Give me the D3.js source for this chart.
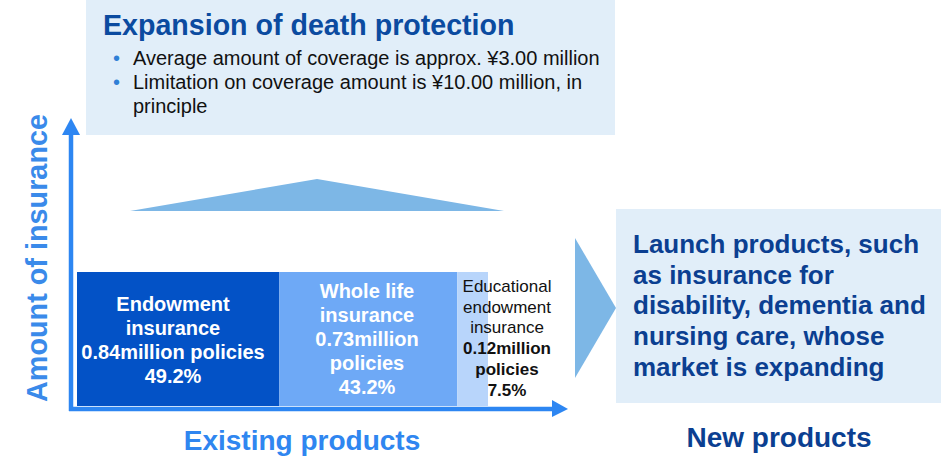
<!DOCTYPE html>
<html>
<head>
<meta charset="utf-8">
<script src="https://cdn.jsdelivr.net/npm/d3@7"></script>
<style>
  html, body { margin: 0; padding: 0; background: #fff; }
  svg { display: block; font-family: "Liberation Sans", Arial, sans-serif; }
</style>
</head>
<body>
<svg id="chart" width="941" height="456"></svg>
<script>
// data
const products = ["Endowment insurance", "Whole life insurance", "Educational endowment insurance"];
const policies = [0.84, 0.73, 0.12]; // million policies
const shares = [49.2, 43.2, 7.5]; // % of policies
const amountLevel = [1, 1, 1]; // relative amount of insurance

const headline = "Expansion of death protection";
const bullets = [
  ["Average amount of coverage is approx. ¥3.00 million"],
  ["Limitation on coverage amount is ¥10.00 million, in", "principle"]
];
const newProductLines = [
  "Launch products, such",
  "as insurance for",
  "disability, dementia and",
  "nursing care, whose",
  "market is expanding"
];
const xTitle = "Existing products";
const yTitle = "Amount of insurance";
const newTitle = "New products";

const fmt = d3.format(".2f");
const pct = (v) => v.toFixed(1) + "%";

// label lines per bar (break points follow the original slide)
const barLabels = [
  { lines: ["Endowment", "insurance", fmt(policies[0]) + "million policies", pct(shares[0])], bold: [1, 1, 1, 1] },
  { lines: ["Whole life", "insurance", fmt(policies[1]) + "million", "policies", pct(shares[1])], bold: [1, 1, 1, 1, 1] },
  { lines: ["Educational", "endowment", "insurance", fmt(policies[2]) + "million", "policies", pct(shares[2])], bold: [0, 0, 0, 1, 1, 1] }
];

const svg = d3.select("#chart");
const arrowBlue = "#2d86f2";

// scales
const total = d3.sum(shares);
const x = d3.scaleLinear().domain([0, total]).range([77, 488]);
const y = d3.scaleLinear().domain([0, 1]).range([406, 272]);
const starts = d3.cumsum([0].concat(shares)).slice(0, shares.length);

const bars = products.map((p, i) => ({
  name: p, share: shares[i], x0: starts[i], x1: starts[i] + shares[i], v: amountLevel[i]
}));

// top box
svg.append("rect").attr("x", 86).attr("y", 0).attr("width", 529).attr("height", 135)
  .attr("fill", "#e1eef9");
svg.append("text").attr("x", 103).attr("y", 35)
  .attr("font-size", 28.6).attr("font-weight", "bold").attr("fill", "#0b4ba0")
  .text(headline);
let by = 65;
bullets.forEach((b) => {
  svg.append("text").attr("x", 113).attr("y", by).attr("font-size", 20).attr("fill", "#2f7fd6").text("•");
  b.forEach((line) => {
    svg.append("text").attr("x", 133).attr("y", by).attr("font-size", 20).attr("fill", "#111").text(line);
    by += 24;
  });
});

// upward triangle
svg.append("polygon")
  .attr("points", "130,211 317,179 504,211")
  .attr("fill", "#7db7e6");

// right arrow
svg.append("polygon")
  .attr("points", "575,238 616,308 575,378")
  .attr("fill", "#7db7e6");

// right box
svg.append("rect").attr("x", 616).attr("y", 209).attr("width", 325).attr("height", 194)
  .attr("fill", "#e1eef9");
svg.append("g").selectAll("text").data(newProductLines).join("text")
  .attr("x", 633).attr("y", (d, i) => 253 + i * 30.7)
  .attr("font-size", 26).attr("font-weight", "bold").attr("fill", "#0b3f91")
  .text((d) => d);

// bars
const barColors = ["#0352c6", "#6ea9f6", "#b8d5fb"];
svg.append("g").selectAll("rect").data(bars).join("rect")
  .attr("x", (d) => x(d.x0))
  .attr("y", (d) => y(d.v))
  .attr("width", (d) => x(d.x1) - x(d.x0))
  .attr("height", (d) => y(0) - y(d.v))
  .attr("fill", (d, i) => barColors[i]);

// bar labels
const labelPos = [
  { cx: 173, y0: 311, dy: 24, size: 20, color: "#fff" },
  { cx: 367, y0: 298, dy: 24, size: 20, color: "#fff" },
  { cx: 507, y0: 292, dy: 20.7, size: 17, color: "#111" }
];
barLabels.forEach((lab, i) => {
  const p = labelPos[i];
  svg.append("g").selectAll("text").data(lab.lines).join("text")
    .attr("x", p.cx).attr("y", (d, j) => p.y0 + j * p.dy)
    .attr("text-anchor", "middle")
    .attr("font-size", p.size)
    .attr("font-weight", (d, j) => lab.bold[j] ? "bold" : "normal")
    .attr("fill", p.color)
    .text((d) => d);
});

// axes with arrow heads
const ax = 71, ay = 409;
svg.append("line").attr("x1", ax).attr("y1", ay + 2).attr("x2", ax).attr("y2", 134)
  .attr("stroke", arrowBlue).attr("stroke-width", 4.5);
svg.append("polygon").attr("points", `${ax - 9},135 ${ax},118 ${ax + 9},135`).attr("fill", arrowBlue);
svg.append("line").attr("x1", ax - 2).attr("y1", ay).attr("x2", 553).attr("y2", ay)
  .attr("stroke", arrowBlue).attr("stroke-width", 4.5);
svg.append("polygon").attr("points", `552,${ay - 9} 568,${ay} 552,${ay + 8}`).attr("fill", arrowBlue);

// axis titles
svg.append("text")
  .attr("transform", `translate(47,${(y.range()[0] + 118) / 2 - 4}) rotate(-90)`)
  .attr("text-anchor", "middle")
  .attr("font-size", 28.8).attr("font-weight", "bold").attr("fill", "#3a8aea")
  .text(yTitle);
svg.append("text").attr("x", 302).attr("y", 450)
  .attr("text-anchor", "middle")
  .attr("font-size", 28).attr("font-weight", "bold").attr("fill", "#2f86f0")
  .text(xTitle);
svg.append("text").attr("x", 779).attr("y", 447)
  .attr("text-anchor", "middle")
  .attr("font-size", 28).attr("font-weight", "bold").attr("fill", "#0b3f91")
  .text(newTitle);
</script>
</body>
</html>
